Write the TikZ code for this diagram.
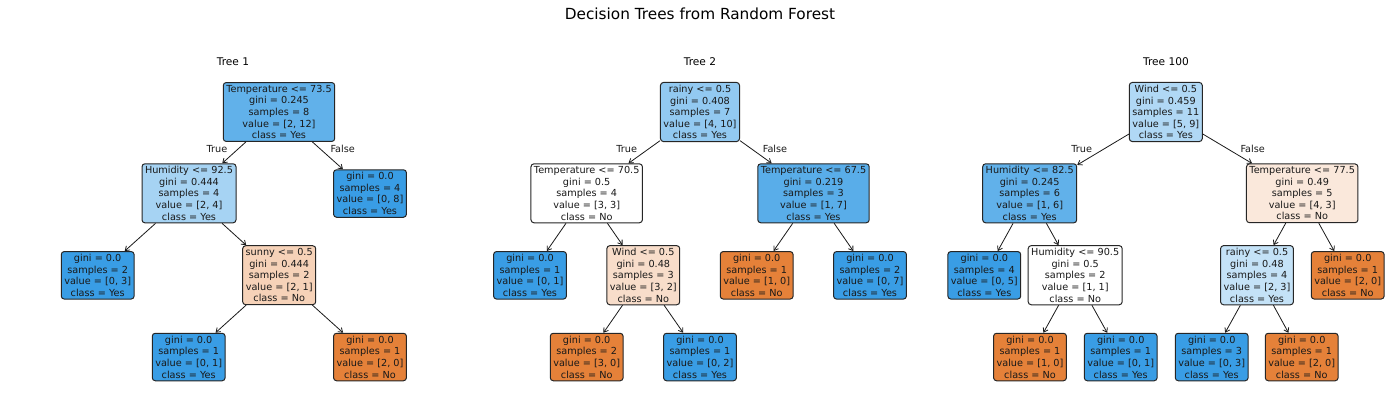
\documentclass[tikz,border=0pt]{standalone}
\usepackage{fontspec}
\setmainfont{DejaVu Sans}
\usetikzlibrary{arrows.meta}
\definecolor{yescol}{RGB}{57,157,229}
\definecolor{nocol}{RGB}{229,129,57}

\begin{document}
\begin{tikzpicture}[x=1pt, y=-1pt,
    box/.style={draw=black!85, line width=1pt, rounded corners=3pt, align=center,
                inner xsep=3pt, inner ysep=2.6pt, text=black!90, font=\fontsize{9.7}{11.6}\selectfont},
    yesbox/.style={box, fill=yescol!#1!white},
    nobox/.style={box, fill=nocol!#1!white},
    branch/.style={text=black!90, font=\fontsize{9.7}{11.6}\selectfont},
    treetitle/.style={font=\fontsize{10.6}{12.7}\selectfont},
    link/.style={->, line width=0.8pt, draw=black!90},
    >={Straight Barb[length=4pt, width=5.5pt]}]
    \useasboundingbox (0,0) rectangle (1400,405);

    \node[font=\fontsize{15.3}{18}\selectfont] (title) at (700,14) {Decision Trees from Random Forest};

    % Tree 1
    \node[treetitle] (T1) at (233,61.7) {Tree 1};
    \node[yesbox=80] (A1) at (279,112) {Temperature <= 73.5\\gini = 0.245\\samples = 8\\value = [2, 12]\\class = Yes};
    \node[yesbox=45] (B1) at (189,193.3) {Humidity <= 92.5\\gini = 0.444\\samples = 4\\value = [2, 4]\\class = Yes};
    \node[yesbox=100] (C1) at (370,193.5) {gini = 0.0\\samples = 4\\value = [0, 8]\\class = Yes};
    \node[yesbox=100] (D1) at (97.7,275.3) {gini = 0.0\\samples = 2\\value = [0, 3]\\class = Yes};
    \node[nobox=36] (E1) at (279.2,275.2) {sunny <= 0.5\\gini = 0.444\\samples = 2\\value = [2, 1]\\class = No};
    \node[yesbox=100] (F1) at (188.7,357) {gini = 0.0\\samples = 1\\value = [0, 1]\\class = Yes};
    \node[nobox=100] (G1) at (370,357) {gini = 0.0\\samples = 1\\value = [2, 0]\\class = No};
    \node[branch] (Y1) at (217,149.3) {True};
    \node[branch] (N1) at (342.7,149.3) {False};

    \draw[link] (A1) -- (B1);
    \draw[link] (A1) -- (C1);
    \draw[link] (B1) -- (D1);
    \draw[link] (B1) -- (E1);
    \draw[link] (E1) -- (F1);
    \draw[link] (E1) -- (G1);

    % Tree 2
    \node[treetitle] (T2) at (700,61.7) {Tree 2};
    \node[yesbox=55] (A2) at (700,112) {rainy <= 0.5\\gini = 0.408\\samples = 7\\value = [4, 10]\\class = Yes};
    \node[box, fill=white] (B2) at (586.7,193.3) {Temperature <= 70.5\\gini = 0.5\\samples = 4\\value = [3, 3]\\class = No};
    \node[yesbox=84] (C2) at (813.5,193.3) {Temperature <= 67.5\\gini = 0.219\\samples = 3\\value = [1, 7]\\class = Yes};
    \node[yesbox=100] (D2) at (530,275.3) {gini = 0.0\\samples = 1\\value = [0, 1]\\class = Yes};
    \node[nobox=27] (E2) at (643.3,275.2) {Wind <= 0.5\\gini = 0.48\\samples = 3\\value = [3, 2]\\class = No};
    \node[nobox=100] (F2) at (756.7,275.3) {gini = 0.0\\samples = 1\\value = [1, 0]\\class = No};
    \node[yesbox=100] (G2) at (870,275.3) {gini = 0.0\\samples = 2\\value = [0, 7]\\class = Yes};
    \node[nobox=100] (H2) at (586.7,357) {gini = 0.0\\samples = 2\\value = [3, 0]\\class = No};
    \node[yesbox=100] (I2) at (700,357) {gini = 0.0\\samples = 1\\value = [0, 2]\\class = Yes};
    \node[branch] (Y2) at (626.7,149.3) {True};
    \node[branch] (N2) at (775,149.3) {False};

    \draw[link] (A2) -- (B2);
    \draw[link] (A2) -- (C2);
    \draw[link] (B2) -- (D2);
    \draw[link] (B2) -- (E2);
    \draw[link] (C2) -- (F2);
    \draw[link] (C2) -- (G2);
    \draw[link] (E2) -- (H2);
    \draw[link] (E2) -- (I2);

    % Tree 100
    \node[treetitle] (T3) at (1166,61.7) {Tree 100};
    \node[yesbox=40] (A3) at (1165.8,112) {Wind <= 0.5\\gini = 0.459\\samples = 11\\value = [5, 9]\\class = Yes};
    \node[yesbox=80] (B3) at (1029.7,193.3) {Humidity <= 82.5\\gini = 0.245\\samples = 6\\value = [1, 6]\\class = Yes};
    \node[nobox=18] (C3) at (1302.2,193.3) {Temperature <= 77.5\\gini = 0.49\\samples = 5\\value = [4, 3]\\class = No};
    \node[yesbox=100] (D3) at (984.3,275.3) {gini = 0.0\\samples = 4\\value = [0, 5]\\class = Yes};
    \node[box, fill=white] (E3) at (1075.2,275.2) {Humidity <= 90.5\\gini = 0.5\\samples = 2\\value = [1, 1]\\class = No};
    \node[yesbox=30] (F3) at (1257,275.2) {rainy <= 0.5\\gini = 0.48\\samples = 4\\value = [2, 3]\\class = Yes};
    \node[nobox=100] (G3) at (1347.7,275.3) {gini = 0.0\\samples = 1\\value = [2, 0]\\class = No};
    \node[nobox=100] (H3) at (1030,357) {gini = 0.0\\samples = 1\\value = [1, 0]\\class = No};
    \node[yesbox=100] (I3) at (1120.7,357) {gini = 0.0\\samples = 1\\value = [0, 1]\\class = Yes};
    \node[yesbox=100] (J3) at (1211.7,357) {gini = 0.0\\samples = 3\\value = [0, 3]\\class = Yes};
    \node[nobox=100] (K3) at (1301.7,357) {gini = 0.0\\samples = 1\\value = [2, 0]\\class = No};
    \node[branch] (Y3) at (1081.7,149.3) {True};
    \node[branch] (N3) at (1252.7,149.3) {False};

    \draw[link] (A3) -- (B3);
    \draw[link] (A3) -- (C3);
    \draw[link] (B3) -- (D3);
    \draw[link] (B3) -- (E3);
    \draw[link] (C3) -- (F3);
    \draw[link] (C3) -- (G3);
    \draw[link] (E3) -- (H3);
    \draw[link] (E3) -- (I3);
    \draw[link] (F3) -- (J3);
    \draw[link] (F3) -- (K3);
\end{tikzpicture}
\end{document}
